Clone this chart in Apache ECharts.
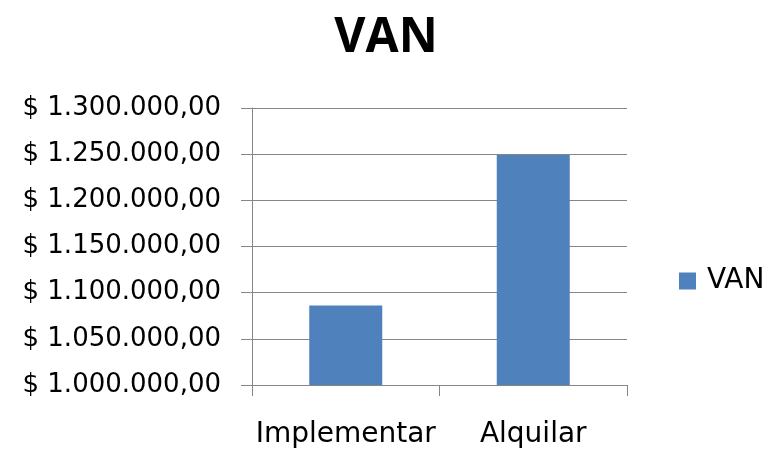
<!DOCTYPE html>
<html>
<head>
<meta charset="utf-8">
<style>
  html, body { margin: 0; padding: 0; background: #ffffff; }
  #chart { width: 772px; height: 451px; }
</style>
<script src="https://cdn.jsdelivr.net/npm/echarts@6/dist/echarts.min.js"></script>
</head>
<body>
<div id="chart"></div>
<script>
// Net present value per option
const categories = ['Implementar', 'Alquilar'];
const vanValues = [1086000, 1249000];
const seriesName = 'VAN';

// Axis range
const yMin = 1000000;
const yMax = 1300000;
const yStep = 50000;

// "$ 1.300.000,00" style: dot thousands, comma decimals
function formatMoney(v) {
  const whole = Math.round(v).toString().replace(/\B(?=(\d{3})+(?!\d))/g, '.');
  return '$ ' + whole + ',00';
}

const chart = echarts.init(document.getElementById('chart'), null, { renderer: 'canvas' });
const titleFont = '"Open Sans", "DejaVu Sans", sans-serif';
const font = '"DejaVu Sans", sans-serif';
const gridColor = '#868686';

chart.setOption({
  animation: false,
  backgroundColor: '#ffffff',
  title: {
    text: 'VAN',
    left: 'center',
    top: 9,
    textStyle: { fontFamily: titleFont, fontSize: 48, fontWeight: 'bold', color: '#000000' }
  },
  legend: {
    data: [seriesName],
    orient: 'vertical',
    left: 679,
    top: 267,
    padding: 0,
    itemWidth: 17,
    itemHeight: 17,
    itemGap: 0,
    icon: 'rect',
    textStyle: { fontFamily: font, fontSize: 28, color: '#000000', padding: [0, 0, 0, 6] }
  },
  grid: { left: 252, right: 145, top: 108, bottom: 66, containLabel: false },
  xAxis: {
    type: 'category',
    data: categories,
    boundaryGap: true,
    axisLine: { show: true, lineStyle: { color: gridColor, width: 1 } },
    axisTick: { show: true, length: 11, alignWithLabel: false, lineStyle: { color: gridColor } },
    axisLabel: { interval: 0, fontFamily: font, fontSize: 28, color: '#000000', margin: 36 },
    splitLine: { show: false }
  },
  yAxis: {
    type: 'value',
    min: yMin,
    max: yMax,
    interval: yStep,
    axisLine: { show: true, lineStyle: { color: gridColor, width: 1 } },
    axisTick: { show: true, length: 11, lineStyle: { color: gridColor } },
    axisLabel: { fontFamily: font, fontSize: 26, color: '#000000', margin: 31, formatter: formatMoney },
    splitLine: { show: true, lineStyle: { color: gridColor, width: 1 } }
  },
  series: [{
    name: seriesName,
    type: 'bar',
    data: vanValues,
    barWidth: 73,
    itemStyle: { color: '#4F81BD' }
  }]
});
</script>
</body>
</html>
